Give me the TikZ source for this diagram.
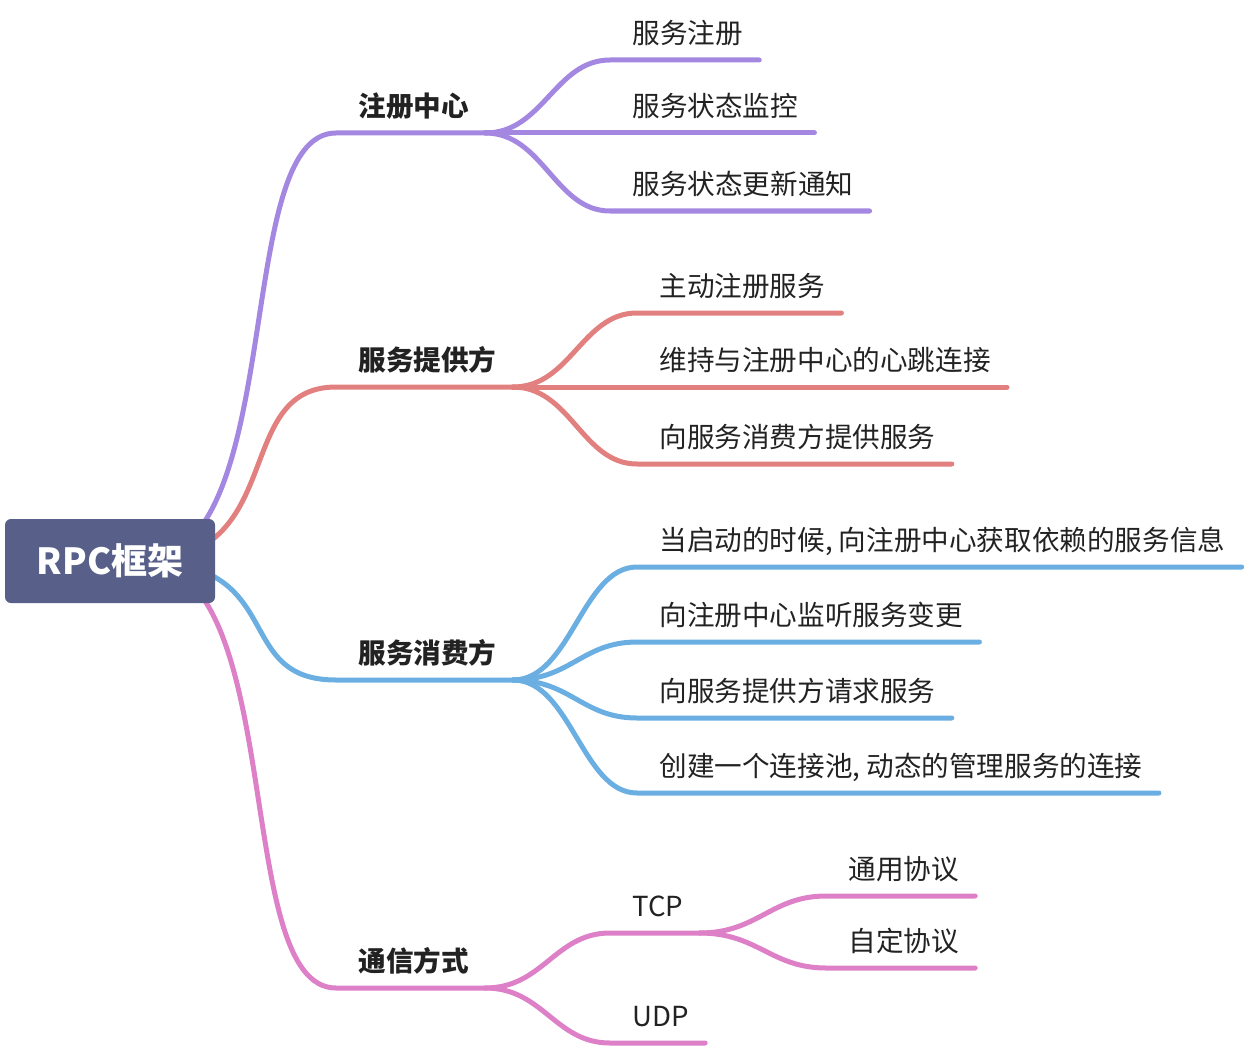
\documentclass[tikz,border=0pt]{standalone}
\usepackage{fontspec}
\setmainfont{Noto Sans CJK SC}
\usetikzlibrary{backgrounds}
\definecolor{rootfill}{RGB}{88,95,136}
\definecolor{zcpurple}{RGB}{163,135,224}
\definecolor{tgred}{RGB}{226,128,128}
\definecolor{xfblue}{RGB}{106,174,226}
\definecolor{txpink}{RGB}{221,128,199}
\definecolor{txtgray}{RGB}{34,34,34}

\begin{document}
\begin{tikzpicture}[x=0.5pt,y=-0.5pt,
  topic/.style={anchor=south west,inner xsep=11pt,inner ysep=7pt,text height=0.88em,text depth=0.12em,text=txtgray,font=\fontsize{13.8pt}{16pt}\selectfont},
  maintopic/.style={topic,font=\fontsize{13.8pt}{16pt}\selectfont\bfseries},
  rootbox/.style={fill=rootfill,rounded corners=3pt,minimum width=105pt,minimum height=42pt,text=white,font=\fontsize{18pt}{20pt}\selectfont\bfseries},
  branch/.style={draw=#1,line width=2.5pt,line cap=round,line join=round}]
\useasboundingbox (0,0) rectangle (1256,1048);
\node[rootbox] (root) at (110,561) {RPC框架};

% first level
\node[maintopic] (zc) at (336,133) {注册中心};
\node[maintopic] (tg) at (336,387) {服务提供方};
\node[maintopic] (xf) at (336,680) {服务消费方};
\node[maintopic] (tx) at (336,988) {通信方式};

% second level
\node[topic] (zc1) at (610,60) {服务注册};
\node[topic] (zc2) at (610,133) {服务状态监控};
\node[topic] (zc3) at (610,211) {服务状态更新通知};
\node[topic] (tg1) at (637,313) {主动注册服务};
\node[topic] (tg2) at (637,387) {维持与注册中心的心跳连接};
\node[topic] (tg3) at (637,464) {向服务消费方提供服务};
\node[topic] (xf1) at (637,567) {当启动的时候, 向注册中心获取依赖的服务信息};
\node[topic] (xf2) at (637,642) {向注册中心监听服务变更};
\node[topic] (xf3) at (637,718) {向服务提供方请求服务};
\node[topic] (xf4) at (637,793) {创建一个连接池, 动态的管理服务的连接};
\node[topic] (tcp) at (610,933) {TCP};
\node[topic] (udp) at (610,1043) {UDP};

% third level
\node[topic] (ty1) at (826,896) {通用协议};
\node[topic] (ty2) at (826,968) {自定协议};

\begin{scope}[on background layer]
\foreach \n/\col in {zc/zcpurple,tg/tgred,xf/xfblue,tx/txpink}
  \draw[branch=\col] ([xshift=15pt]root.center) .. controls +(150,0) and +(-106,0) .. (\n.south west) -- ([xshift=-3pt]\n.south east);
\foreach \a/\b/\col in {zc/zc1/zcpurple,zc/zc2/zcpurple,zc/zc3/zcpurple,
    tg/tg1/tgred,tg/tg2/tgred,tg/tg3/tgred,
    xf/xf1/xfblue,xf/xf2/xfblue,xf/xf3/xfblue,xf/xf4/xfblue,
    tx/tcp/txpink,tx/udp/txpink,tcp/ty1/txpink,tcp/ty2/txpink}
  \draw[branch=\col] ([xshift=-3pt]\a.south east) .. controls +(58,0) and +(-55,0) .. (\b.south west) -- ([xshift=-3pt]\b.south east);
\end{scope}
\end{tikzpicture}
\end{document}
